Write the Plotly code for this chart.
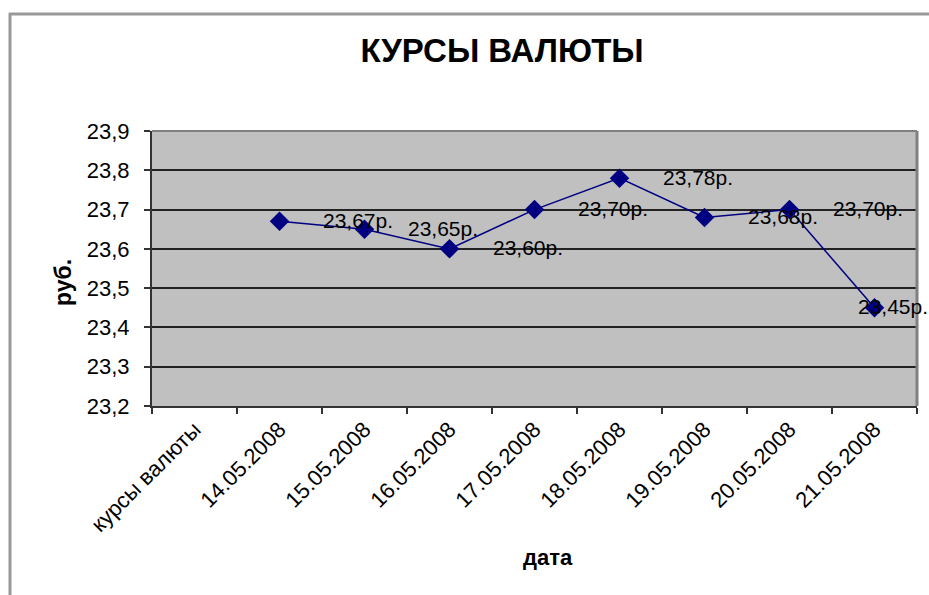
import plotly.graph_objects as go

categories = ["курсы валюты", "14.05.2008", "15.05.2008", "16.05.2008", "17.05.2008",
              "18.05.2008", "19.05.2008", "20.05.2008", "21.05.2008"]
dates = categories[1:]
rates = [23.67, 23.65, 23.60, 23.70, 23.78, 23.68, 23.70, 23.45]
label_texts = ["23,67р.", "23,65р.", "23,60р.", "23,70р.", "23,78р.", "23,68р.", "23,70р.", "23,45р."]
y_ticks = [23.2, 23.3, 23.4, 23.5, 23.6, 23.7, 23.8, 23.9]
y_ticktext = ["23,2", "23,3", "23,4", "23,5", "23,6", "23,7", "23,8", "23,9"]

FONT = "Liberation Sans, Arial, sans-serif"
NAVY = "#000080"

fig = go.Figure()
fig.add_trace(go.Scatter(
    x=dates, y=rates, mode="lines+markers",
    line=dict(color=NAVY, width=1.5),
    marker=dict(symbol="diamond", size=15, color=NAVY),
    showlegend=False, cliponaxis=False,
))

# data labels (Excel placed them shifted one category to the right)
last_idx = len(categories) - 1
for i, (v, t) in enumerate(zip(rates, label_texts)):
    xi = i + 2  # index of next category on the axis
    if xi > last_idx:
        xi = last_idx + 0.3
    fig.add_annotation(x=xi - 0.08, y=v, xref="x", yref="y", yshift=1, text=t, showarrow=False,
                       font=dict(family=FONT, size=21, color="#000000"),
                       xanchor="center", yanchor="middle")

fig.update_layout(
    width=929, height=595,
    margin=dict(l=152, r=12, t=131, b=189),
    paper_bgcolor="white", plot_bgcolor="#c0c0c0",
    font=dict(family=FONT, color="#000000"),
    title=dict(text="<b>КУРСЫ ВАЛЮТЫ</b>", font=dict(family=FONT, size=33, color="#000000"),
               xref="paper", x=(502 - 152) / 765, xanchor="center",
               yref="container", y=1 - 50 / 595, yanchor="middle"),
    xaxis=dict(type="category", categoryorder="array", categoryarray=categories,
               range=[-0.5, len(categories) - 0.5],
               tickson="boundaries", ticks="outside", ticklen=6, tickwidth=2, tickcolor="#333333",
               tickangle=-45, tickfont=dict(family=FONT, size=22, color="#000000"),
               showgrid=False, showline=True, linecolor="#333333", linewidth=2,
               zeroline=False, mirror=False),
    yaxis=dict(range=[23.2, 23.9], tickvals=y_ticks, ticktext=y_ticktext,
               ticks="outside", ticklen=6, tickwidth=2, tickcolor="#333333",
               ticklabelstandoff=10,
               tickfont=dict(family=FONT, size=22, color="#000000"),
               showgrid=True, gridcolor="#222222", gridwidth=2,
               showline=True, linecolor="#333333", linewidth=2, zeroline=False),
)

# axis titles
fig.add_annotation(text="<b>руб.</b>", xref="paper", yref="paper",
                   x=(63 - 152) / 765, y=(406 - 283) / 275, textangle=-90,
                   showarrow=False, font=dict(family=FONT, size=23, color="#000000"),
                   xanchor="center", yanchor="middle")
fig.add_annotation(text="<b>дата</b>", xref="paper", yref="paper",
                   x=(548 - 152) / 765, y=-(557 - 406) / 275,
                   showarrow=False, font=dict(family=FONT, size=22, color="#000000"),
                   xanchor="center", yanchor="middle")

# plot area gray border (top and right)
fig.add_shape(type="line", xref="paper", yref="paper", x0=0, x1=1, y0=1, y1=1,
              line=dict(color="#808080", width=2))
fig.add_shape(type="line", xref="paper", yref="paper", x0=1, x1=1, y0=0, y1=1,
              line=dict(color="#808080", width=3))

# outer frame lines (top and left)
fig.add_shape(type="line", xref="paper", yref="paper",
              x0=(9 - 152) / 765, x1=(929 - 152) / 765,
              y0=1 + (131 - 14) / 275, y1=1 + (131 - 14) / 275,
              line=dict(color="#999999", width=3))
fig.add_shape(type="line", xref="paper", yref="paper",
              x0=(10 - 152) / 765, x1=(10 - 152) / 765,
              y0=1 + (131 - 13) / 275, y1=-(595 - 406) / 275,
              line=dict(color="#999999", width=3))

fig.write_html("out.html", config={"displayModeBar": False},
               post_script="document.body.style.margin='0';document.body.style.overflow='hidden';")
